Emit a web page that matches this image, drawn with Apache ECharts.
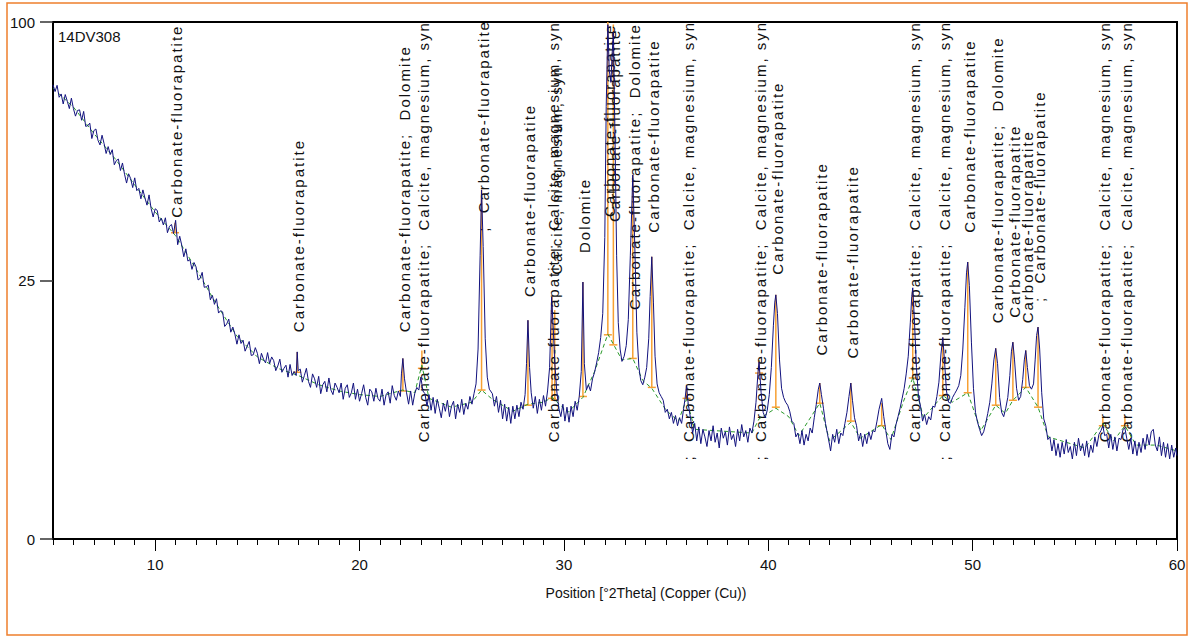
<!DOCTYPE html>
<html>
<head>
<meta charset="utf-8">
<script src="https://cdn.jsdelivr.net/npm/echarts@6/dist/echarts.min.js"></script>
<style>
  html, body { margin: 0; padding: 0; background: #fff; }
  #chart { width: 1193px; height: 637px; }
  /* phase labels are drawn letter-spaced like the original software */
  #chart text[style*="Liberation"]:not([style*="sans-serif"]) { letter-spacing: 2px; white-space: pre; }
</style>
</head>
<body>
<div id="chart"></div>
<script>
// measured scan: [2theta, counts]
var scan = [
  [5.0,77.2],[5.1,74.9],[5.2,77.0],[5.3,73.0],[5.4,74.1],[5.5,70.8],[5.6,73.9],[5.7,71.7],[5.8,69.3],[5.9,72.7],
  [6.0,69.3],[6.1,66.9],[6.2,68.7],[6.3,68.9],[6.4,65.6],[6.5,68.4],[6.6,63.7],[6.7,63.9],[6.8,64.7],[6.9,60.0],
  [7.0,62.4],[7.1,62.9],[7.2,59.5],[7.3,58.1],[7.4,61.0],[7.5,58.5],[7.6,55.6],[7.7,57.6],[7.8,55.3],[7.9,56.7],
  [8.0,52.4],[8.1,53.6],[8.2,54.0],[8.3,50.8],[8.4,52.9],[8.5,49.8],[8.6,47.4],[8.7,49.9],[8.8,48.6],[8.9,46.2],
  [9.0,48.8],[9.1,45.4],[9.2,46.0],[9.3,43.3],[9.4,45.6],[9.5,43.5],[9.6,41.7],[9.7,44.3],[9.8,40.9],[9.9,38.8],
  [10.0,40.8],[10.1,40.4],[10.2,37.6],[10.3,38.5],[10.4,36.9],[10.5,38.6],[10.6,35.1],[10.7,36.6],[10.8,37.0],[10.9,34.9],
  [11.0,38.0],[11.1,32.4],[11.2,34.3],[11.3,32.3],[11.4,29.8],[11.5,31.5],[11.6,28.9],[11.7,29.2],[11.8,27.2],[11.9,28.6],
  [12.0,27.7],[12.1,25.1],[12.2,25.4],[12.3,26.6],[12.4,23.7],[12.5,23.8],[12.6,24.1],[12.7,21.4],[12.8,22.2],[12.9,20.6],
  [13.0,21.6],[13.1,19.1],[13.2,19.5],[13.3,19.3],[13.4,16.9],[13.5,17.3],[13.6,18.1],[13.7,16.0],[13.8,16.8],[13.9,15.7],
  [14.0,14.2],[14.1,15.6],[14.2,14.3],[14.3,14.8],[14.4,13.2],[14.5,13.9],[14.6,14.6],[14.7,12.6],[14.8,12.7],[14.9,13.7],
  [15.0,12.9],[15.1,11.5],[15.2,12.9],[15.3,12.1],[15.4,11.6],[15.5,13.0],[15.6,11.5],[15.7,12.4],[15.8,11.9],[15.9,10.6],
  [16.0,11.2],[16.1,12.1],[16.2,10.4],[16.3,10.9],[16.4,11.3],[16.5,9.8],[16.6,11.4],[16.7,10.0],[16.8,10.5],[16.9,10.0],
  [16.95,13.1],[17.0,10.6],[17.1,10.8],[17.2,9.2],[17.3,10.0],[17.4,10.9],[17.5,9.3],[17.6,8.6],[17.7,10.2],[17.8,9.6],[17.9,8.6],
  [18.0,9.9],[18.1,7.9],[18.2,8.9],[18.3,9.3],[18.4,8.1],[18.5,9.7],[18.6,8.3],[18.7,7.8],[18.8,9.1],[18.9,8.6],
  [19.0,8.0],[19.1,9.1],[19.2,7.3],[19.3,8.5],[19.4,8.9],[19.5,7.5],[19.6,8.0],[19.7,9.1],[19.8,7.3],[19.9,8.4],
  [20.0,7.1],[20.1,7.9],[20.2,8.9],[20.3,7.5],[20.4,6.7],[20.5,8.4],[20.6,8.1],[20.7,7.1],[20.8,8.5],[20.9,7.4],
  [21.0,7.1],[21.1,8.4],[21.2,6.7],[21.3,7.8],[21.4,8.1],[21.5,6.9],[21.6,8.8],[21.7,7.7],[21.8,7.2],[21.9,8.2],
  [22.0,7.6],[22.05,10.2],[22.12,12.2],[22.2,9.6],[22.3,8.0],[22.4,6.8],[22.5,8.2],[22.6,6.7],[22.7,7.9],[22.8,8.6],[22.9,8.3],
  [23.0,9.8],[23.1,8.2],[23.2,7.9],[23.3,6.6],[23.4,7.8],[23.5,6.2],[23.6,7.5],[23.7,5.9],[23.8,7.3],[23.9,6.4],
  [24.0,5.5],[24.1,6.9],[24.2,6.1],[24.3,7.2],[24.4,5.6],[24.5,6.6],[24.6,7.1],[24.7,5.4],[24.8,6.8],[24.9,6.0],
  [25.0,7.3],[25.1,5.8],[25.2,6.9],[25.3,6.3],[25.4,7.6],[25.5,6.8],[25.6,7.9],[25.7,9.0],[25.8,13.5],[25.9,30.0],
  [25.97,45.6],[26.05,32.0],[26.15,15.0],[26.25,9.8],[26.35,8.4],[26.5,7.9],[26.6,6.6],[26.7,7.6],[26.8,6.0],[26.9,7.2],
  [27.0,5.4],[27.1,6.8],[27.2,5.2],[27.3,6.5],[27.4,5.0],[27.5,6.6],[27.6,5.4],[27.7,6.7],[27.8,5.6],[27.9,7.0],
  [28.0,6.3],[28.1,7.8],[28.17,11.5],[28.24,17.9],[28.32,11.0],[28.4,8.0],[28.5,6.4],[28.6,7.6],[28.7,5.9],[28.8,7.3],[28.9,6.2],
  [29.0,7.7],[29.1,6.6],[29.2,8.2],[29.3,11.0],[29.4,21.9],[29.48,16.5],[29.55,11.8],[29.65,8.2],[29.75,6.4],[29.85,5.6],[29.95,6.8],
  [30.05,5.2],[30.15,6.5],[30.25,5.1],[30.35,6.6],[30.45,5.6],[30.55,7.1],[30.65,6.2],[30.75,7.6],[30.85,10.5],[30.93,24.7],
  [31.0,11.5],[31.1,8.3],[31.2,8.9],[31.3,8.2],[31.4,9.6],[31.5,10.4],[31.6,11.6],[31.7,13.0],[31.8,15.2],[31.9,19.0],
  [32.0,34.0],[32.07,70.0],[32.15,99.0],[32.22,82.0],[32.3,78.0],[32.36,88.0],[32.42,96.0],[32.5,60.0],[32.58,30.0],[32.66,17.5],
  [32.75,13.5],[32.84,11.8],[32.95,12.5],[33.05,14.0],[33.15,18.0],[33.25,30.0],[33.37,49.6],[33.47,32.0],[33.57,16.0],[33.67,11.0],
  [33.76,9.4],[33.86,8.9],[33.96,9.8],[34.05,11.0],[34.15,15.0],[34.22,22.0],[34.3,29.8],[34.38,21.0],[34.46,12.5],[34.56,9.0],
  [34.66,8.0],[34.76,7.6],[34.86,7.2],[34.96,6.0],[35.06,6.3],[35.16,5.4],[35.26,6.0],[35.36,5.0],[35.46,5.7],[35.56,4.8],
  [35.66,5.5],[35.76,5.0],[35.86,6.4],[35.93,7.4],[36.0,8.8],[36.08,6.9],[36.2,5.4],[36.3,4.2],[36.4,5.0],[36.5,3.6],
  [36.6,4.7],[36.7,3.4],[36.8,4.5],[36.9,3.9],[37.0,3.2],[37.1,4.4],[37.2,3.6],[37.3,4.8],[37.4,3.5],[37.5,4.2],
  [37.6,3.1],[37.7,4.6],[37.8,3.8],[37.9,4.3],[38.0,3.3],[38.1,4.7],[38.2,3.7],[38.3,4.1],[38.4,3.2],[38.5,4.5],
  [38.6,3.6],[38.7,4.9],[38.8,3.9],[38.9,4.4],[39.0,3.5],[39.1,4.6],[39.2,4.2],[39.3,5.2],[39.4,7.0],[39.5,10.5],
  [39.55,11.7],[39.65,8.0],[39.75,6.0],[39.85,5.5],[39.95,6.2],[40.05,7.8],[40.15,11.0],[40.25,17.0],[40.32,21.0],[40.37,22.3],
  [40.45,19.0],[40.55,12.0],[40.65,8.5],[40.75,7.5],[40.85,7.0],[40.95,6.7],[41.05,6.1],[41.15,5.2],[41.25,5.0],[41.35,3.9],
  [41.45,4.2],[41.55,3.4],[41.65,4.4],[41.75,3.3],[41.85,4.1],[41.95,3.6],[42.05,4.6],[42.15,4.2],[42.25,5.5],[42.35,6.8],
  [42.45,8.4],[42.52,9.1],[42.6,7.8],[42.7,6.4],[42.8,5.0],[42.9,4.1],[43.0,3.3],[43.05,2.9],[43.15,4.1],[43.25,3.5],
  [43.35,4.5],[43.45,3.4],[43.55,4.2],[43.65,4.0],[43.75,5.0],[43.85,6.0],[43.95,7.6],[44.04,9.1],[44.12,7.2],[44.22,5.5],
  [44.32,4.8],[44.42,3.6],[44.52,4.2],[44.62,3.2],[44.72,4.1],[44.82,3.4],[44.92,4.3],[45.02,3.7],[45.12,4.4],[45.22,4.3],
  [45.32,5.2],[45.42,6.3],[45.55,7.4],[45.65,5.6],[45.75,4.4],[45.85,3.4],[45.95,3.0],[46.05,4.1],[46.15,3.9],[46.25,4.9],
  [46.35,5.6],[46.45,6.4],[46.55,7.4],[46.65,8.5],[46.75,10.2],[46.85,12.5],[46.95,17.5],[47.02,22.0],[47.07,23.6],[47.15,18.0],
  [47.25,11.0],[47.35,7.6],[47.45,6.6],[47.55,5.2],[47.65,5.8],[47.75,4.9],[47.85,5.6],[47.95,5.3],[48.05,6.6],[48.15,6.5],
  [48.25,7.6],[48.35,9.2],[48.45,12.8],[48.54,15.2],[48.62,12.0],[48.72,8.2],[48.82,7.0],[48.92,6.9],[49.02,7.5],[49.12,7.9],
  [49.22,8.3],[49.32,8.8],[49.42,10.0],[49.52,13.5],[49.62,20.0],[49.7,26.5],[49.76,28.7],[49.84,24.0],[49.94,14.5],[50.04,8.5],
  [50.14,6.0],[50.24,5.1],[50.34,4.5],[50.44,4.0],[50.54,4.3],[50.64,5.0],[50.74,5.9],[50.84,7.0],[50.94,9.0],[51.04,12.0],
  [51.13,13.6],[51.22,11.5],[51.32,7.5],[51.42,6.0],[51.52,5.6],[51.62,6.4],[51.72,7.5],[51.82,10.0],[51.9,13.2],[51.97,14.5],
  [52.05,12.0],[52.15,8.5],[52.25,7.2],[52.35,7.6],[52.45,9.5],[52.53,12.0],[52.6,13.3],[52.68,11.0],[52.78,8.8],[52.88,8.4],
  [52.98,9.0],[53.06,12.0],[53.13,15.5],[53.2,16.8],[53.28,13.5],[53.38,8.0],[53.48,5.4],[53.58,4.8],[53.68,3.7],[53.78,3.9],
  [53.88,2.9],[53.98,3.7],[54.08,2.6],[54.18,3.4],[54.28,2.5],[54.38,3.5],[54.48,2.7],[54.58,3.7],[54.68,2.8],[54.78,3.2],
  [54.88,2.4],[54.98,3.5],[55.08,2.6],[55.18,3.8],[55.28,2.9],[55.38,3.4],[55.48,2.6],[55.58,3.6],[55.68,2.5],[55.78,3.3],
  [55.88,2.8],[55.98,3.9],[56.08,3.2],[56.18,4.1],[56.28,4.4],[56.37,4.8],[56.46,4.0],[56.56,4.1],[56.66,3.1],[56.76,4.1],
  [56.86,3.0],[56.96,3.9],[57.06,2.9],[57.16,3.8],[57.26,3.7],[57.36,4.5],[57.45,4.6],[57.54,3.8],[57.64,3.0],[57.74,3.8],
  [57.84,2.7],[57.94,3.6],[58.04,2.6],[58.14,3.5],[58.24,2.8],[58.34,3.8],[58.44,3.0],[58.54,4.1],[58.64,3.3],[58.74,4.3],
  [58.84,4.5],[58.94,3.3],[59.04,2.9],[59.14,3.9],[59.24,2.6],[59.34,3.5],[59.44,2.5],[59.54,3.4],[59.64,2.4],[59.74,3.3],
  [59.84,2.5],[59.94,3.1],[60.0,2.6]
];

// fitted background: [2theta, counts]
var background = [
  [5.0,76.0],[6.0,69.8],[7.0,61.5],[8.0,54.4],[9.0,46.9],[10.0,40.0],[11.0,34.4],[12.0,27.3],[13.0,20.6],[14.0,15.4],
  [15.0,12.4],[16.0,10.9],[17.0,10.0],[18.0,8.9],[19.0,8.2],[20.0,7.8],[21.0,7.6],[22.1,8.3],[22.7,8.0],[23.05,11.3],
  [23.4,7.4],[24.5,6.5],[25.5,7.0],[25.97,8.3],[26.5,7.3],[27.5,6.1],[28.24,6.8],[29.0,7.0],[29.42,7.5],[30.2,6.0],
  [30.93,7.5],[31.5,10.5],[32.15,15.7],[32.42,14.2],[32.84,12.0],[33.37,12.2],[33.86,9.4],[34.3,8.5],[35.0,6.2],[35.6,5.2],
  [36.0,7.3],[36.4,4.5],[39.2,4.2],[39.55,5.4],[40.37,6.4],[41.0,5.6],[41.5,4.0],[42.52,6.9],[43.0,3.6],[44.04,5.1],
  [44.5,3.8],[45.55,4.9],[46.0,3.7],[46.6,7.0],[47.07,9.7],[47.6,5.5],[48.54,7.7],[49.0,7.0],[49.76,8.0],[50.4,4.4],
  [51.13,6.7],[51.6,5.9],[51.97,7.2],[52.6,8.6],[53.2,6.5],[53.7,3.9],[55.5,3.1],[56.37,5.0],[56.9,3.6],[57.45,4.8],
  [58.0,3.3],[59.0,3.3],[60.0,2.9]
];

// identified peaks: position, top and base (counts)
var peakTheta = [10.97,16.95,22.12,23.05,25.97,28.24,29.42,29.55,30.93,32.15,32.42,33.37,34.3,36.0,39.55,40.37,42.52,44.04,45.55,47.07,48.54,49.76,51.13,51.97,52.6,53.2,56.37,57.45];
var peakTop   = [37.4,13.1,12.2,13.3,45.6,17.9,21.9,19.6,24.7,100,99,49.6,29.8,8.9,12.0,22.3,9.1,9.1,6.9,23.2,15.2,28.7,13.6,14.5,13.3,16.8,5.5,5.7];
var peakBase  = [35.1,10.4,8.2,10.9,8.3,6.7,7.4,7.2,7.6,15.6,14.1,12.2,8.6,7.4,10.3,6.5,6.9,5.2,4.8,9.7,7.7,8.0,6.7,7.2,8.6,6.5,4.8,4.8];

// phase labels: position, text, counts level where the text starts
var labelTheta = [10.97,16.95,22.12,23.05,25.97,28.24,29.42,29.55,30.93,32.15,32.42,33.37,34.3,36.0,39.55,40.37,42.52,44.04,47.07,48.54,49.76,51.13,51.97,52.6,53.2,56.37,57.45];
var labelText = [
  'Carbonate-fluorapatite',
  'Carbonate-fluorapatite',
  'Carbonate-fluorapatite;  Dolomite',
  'Carbonate-fluorapatite;  Calcite, magnesium, syn',
  ';  Carbonate-fluorapatite',
  'Carbonate-fluorapatite',
  'Carbonate-fluorapatite;  Calcite, magnesium, syn',
  'Calcite, magnesium, syn',
  'Dolomite',
  'Carbonate-fluorapatite',
  'Carbonate-fluorapatite',
  'Carbonate-fluorapatite;  Dolomite',
  'Carbonate-fluorapatite',
  ';  Carbonate-fluorapatite;  Calcite, magnesium, syn',
  ';  Carbonate-fluorapatite;  Calcite, magnesium, syn',
  'Carbonate-fluorapatite',
  'Carbonate-fluorapatite',
  'Carbonate-fluorapatite',
  'Carbonate-fluorapatite;  Calcite, magnesium, syn',
  ';  Carbonate-fluorapatite;  Calcite, magnesium, syn',
  'Carbonate-fluorapatite',
  'Carbonate-fluorapatite;  Dolomite',
  'Carbonate-fluorapatite',
  'Carbonate-fluorapatite',
  ';  Carbonate-fluorapatite',
  'Carbonate-fluorapatite;  Calcite, magnesium, syn',
  'Carbonate-fluorapatite;  Calcite, magnesium, syn'
];
var labelAt = [38.6,16.0,16.0,3.5,35.3,21.9,3.5,26.1,30.6,38.8,37.6,19.6,35.1,2.3,2.3,26.1,12.6,12.2,3.5,2.3,35.1,17.4,18.3,17.4,21.0,3.5,3.5];

var xTicks = [10, 20, 30, 40, 50, 60];
var yTicks = [0, 25, 100];
var sampleName = '14DV308';
var xTitle = 'Position [°2Theta] (Copper (Cu))';

(function(){
    'use strict';
    var axisFont = 'Liberation Sans, sans-serif';
    var labelFont = 'Liberation Sans';
    // intensity axis is square-root scaled
    function root(v){ return Math.sqrt(v); }

    var chart = echarts.init(document.getElementById('chart'), null, {renderer: 'svg'});

    var option = {
        animation: false,
        grid: {left: 53, right: 16, top: 22, bottom: 98, show: true, borderColor: '#000', borderWidth: 2},
        xAxis: [
            {
                type: 'value', min: 5, max: 60, interval: 1, position: 'bottom',
                axisLine: {show: true, onZero: false, lineStyle: {color: '#000', width: 2}},
                axisTick: {show: true, length: 6, lineStyle: {color: '#000', width: 1}},
                axisLabel: {customValues: xTicks, margin: 18, fontSize: 15, color: '#111', fontFamily: axisFont},
                splitLine: {show: false}
            },
            {
                type: 'value', min: 5, max: 60, position: 'bottom',
                axisLine: {show: false},
                axisTick: {show: true, customValues: xTicks, length: 12, lineStyle: {color: '#000', width: 1}},
                axisLabel: {show: false},
                splitLine: {show: false}
            }
        ],
        yAxis: {
            type: 'value', min: 0, max: root(100),
            axisLine: {show: true, onZero: false, lineStyle: {color: '#000', width: 2}},
            axisTick: {show: true, customValues: yTicks.map(root), length: 13, lineStyle: {color: '#333', width: 1.5}},
            axisLabel: {
                customValues: yTicks.map(root), margin: 18, fontSize: 15, color: '#111', fontFamily: axisFont,
                formatter: function(v){ return String(Math.round(v * v)); }
            },
            splitLine: {show: false}
        },
        graphic: [
            {type: 'rect', shape: {x: 7, y: 3, width: 1180, height: 632}, style: {fill: 'none', stroke: '#EE7F2D', lineWidth: 1.5}, silent: true},
            {type: 'text', x: 58, y: 36, style: {text: sampleName, fontSize: 15, fontFamily: axisFont, fill: '#111', verticalAlign: 'middle'}},
            {type: 'text', x: 646, y: 593, style: {text: xTitle, fontSize: 14, fontFamily: axisFont, fill: '#111', align: 'center', verticalAlign: 'middle'}}
        ],
        series: [
            {
                name: 'background', type: 'line', xAxisIndex: 0, showSymbol: false,
                lineStyle: {color: '#2a9a2a', width: 1, type: [4, 3]},
                data: background.map(function(p){ return [p[0], root(p[1])]; })
            },
            {
                name: 'scan', type: 'line', xAxisIndex: 0, showSymbol: false, sampling: false,
                lineStyle: {color: '#12127e', width: 1},
                data: scan.map(function(p){ return [p[0], root(p[1])]; })
            },
            {
                name: 'peaks', type: 'custom', xAxisIndex: 0,
                data: peakTheta.map(function(t, i){ return [t, root(peakTop[i]), root(peakBase[i])]; }),
                encode: {x: 0, y: [1, 2]},
                renderItem: function(params, api){
                    var top = api.coord([api.value(0), api.value(1)]);
                    var base = api.coord([api.value(0), api.value(2)]);
                    var st = {stroke: '#F7A033', lineWidth: 1.5};
                    return {
                        type: 'group',
                        children: [
                            {type: 'line', shape: {x1: top[0], y1: top[1], x2: base[0], y2: base[1]}, style: st},
                            {type: 'line', shape: {x1: base[0] - 4, y1: base[1], x2: base[0] + 4, y2: base[1]}, style: st}
                        ]
                    };
                }
            },
            {
                name: 'labels', type: 'custom', xAxisIndex: 0,
                data: labelTheta.map(function(t, i){ return [t, root(labelAt[i])]; }),
                encode: {x: 0, y: 1},
                renderItem: function(params, api){
                    var p = api.coord([api.value(0), api.value(1)]);
                    return {
                        type: 'text', x: p[0] + 1.5, y: p[1], rotation: Math.PI / 2,
                        style: {
                            text: labelText[params.dataIndex], fontSize: 15, fontFamily: labelFont,
                            fill: '#111', align: 'left', verticalAlign: 'middle'
                        }
                    };
                }
            }
        ]
    };
    chart.setOption(option);
})();
</script>
</body>
</html>
